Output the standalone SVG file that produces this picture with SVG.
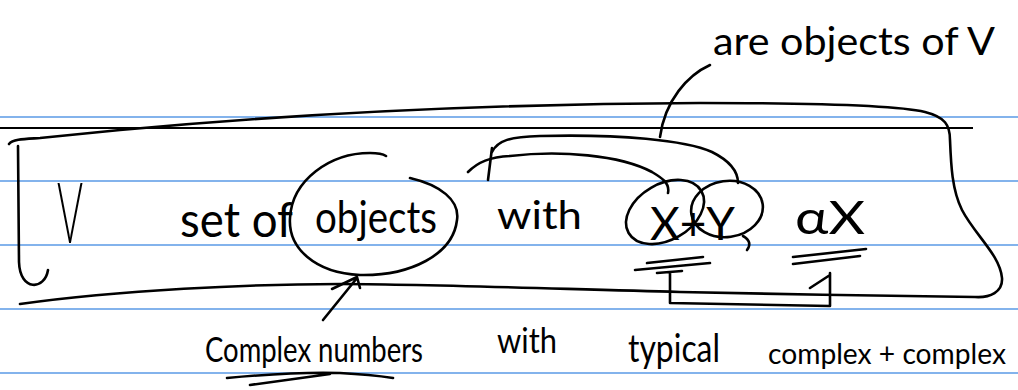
<svg xmlns="http://www.w3.org/2000/svg" width="1018" height="390" viewBox="0 0 1018 390">
<style>
.rule{stroke:#5a9ae6;stroke-width:1.4}
.bar{stroke:#000;stroke-width:2.2}
.ink{fill:none;stroke:#000;stroke-width:2.6;stroke-linecap:round;stroke-linejoin:round}
.hw{font-family:Lato,"Liberation Sans",sans-serif;font-weight:400;fill:#000}
.thin{font-weight:300}
</style>
<rect width="1018" height="390" fill="#fff"/>
<g id="ruling">
<line class="rule" x1="0" y1="117" x2="1018" y2="117"/>
<line class="rule" x1="0" y1="181" x2="1018" y2="181"/>
<line class="rule" x1="0" y1="245" x2="1018" y2="245"/>
<line class="rule" x1="0" y1="309" x2="1018" y2="309"/>
<line class="rule" x1="0" y1="373" x2="1018" y2="373"/>
<line class="bar" x1="0" y1="128" x2="973" y2="128"/>
</g>
<g id="vector-space-box">
<path class="ink" d="M48,270 C45,290 20,292 19,262 L18,146"/>
<path class="ink" d="M9,144 C13,139 25,139 40,138 L120,130 C250,118 450,104 700,103 C820,103 900,106 925,112 C945,117 950,125 950,140 C951,165 952,190 962,210 C975,235 1000,255 1002,278 C1003,292 990,298 975,297 C900,296 760,294 680,292 C560,289 420,284 340,284 C250,284 120,290 20,304"/>
<text class="hw thin" x="57" y="243" font-size="84" textLength="26" lengthAdjust="spacingAndGlyphs">V</text>
</g>
<g id="label-are-objects">
<text class="hw" x="713" y="55" font-size="38" textLength="282" lengthAdjust="spacingAndGlyphs">are objects of V</text>
</g>
<g id="set-of">
<text class="hw" x="180" y="237" font-size="48" textLength="113" lengthAdjust="spacingAndGlyphs">set of</text>
</g>
<g id="objects">
<path class="ink" d="M410,178 C440,185 460,200 457,220 C453,255 410,276 360,275 C315,273 288,248 290,218 C292,180 330,153 370,153 C378,153 383,154 386,156"/>
<text class="hw" x="315" y="233" font-size="44" textLength="122" lengthAdjust="spacingAndGlyphs">objects</text>
</g>
<g id="with-top">
<text class="hw" x="497" y="229" font-size="38" textLength="85" lengthAdjust="spacingAndGlyphs">with</text>
</g>
<g id="x-plus-y">
<ellipse class="ink" cx="665" cy="212" rx="42" ry="28" transform="rotate(-30 665 212)"/>
<ellipse class="ink" cx="727" cy="209" rx="36" ry="28" transform="rotate(-8 727 209)"/>
<path class="ink" d="M743,236 C750,240 751,245 747,250"/>
<text class="hw" x="650" y="240" font-size="46" textLength="85" lengthAdjust="spacingAndGlyphs">X+Y</text>
<path class="ink" d="M635,270 L710,263 M647,263 L703,257"/>
</g>
<g id="alpha-x">
<text class="hw" x="795" y="234" font-size="46" textLength="70" lengthAdjust="spacingAndGlyphs">αX</text>
<path class="ink" d="M793,257 L866,249 M793,264 L860,256"/>
</g>
<g id="complex-numbers">
<text class="hw" x="205" y="362" font-size="34" textLength="218" lengthAdjust="spacingAndGlyphs">Complex numbers</text>
<path class="ink" d="M227,378 C270,374 310,372 340,373 C360,374 380,376 393,378 M250,385 L330,374"/>
</g>
<g id="with-bottom">
<text class="hw" x="497" y="353" font-size="34" textLength="60" lengthAdjust="spacingAndGlyphs">with</text>
</g>
<g id="typical">
<text class="hw" x="628" y="362" font-size="38" textLength="92" lengthAdjust="spacingAndGlyphs">typical</text>
</g>
<g id="complex-plus-complex">
<text class="hw" x="768" y="364" font-size="28" textLength="238" lengthAdjust="spacingAndGlyphs">complex + complex</text>
</g>
<g id="connectors">
<path class="ink" d="M710,65 C688,75 665,100 660,137"/>
<path class="ink" d="M492,152 C498,140 510,137 540,136 C620,134 685,140 712,152 C728,160 738,170 738,183"/>
<path class="ink" d="M468,172 C478,162 490,157 510,156 C560,150 620,155 652,172 C662,178 670,183 668,193"/>
<path class="ink" d="M492,148 L488,180"/>
<path class="ink" d="M323,320 L357,278 M332,289 L357,277 L360,288"/>
<path class="ink" d="M670,272 L670,303 L830,306 L830,273 M657,273 L682,271 M810,288 L830,275"/>
</g>
</svg>
